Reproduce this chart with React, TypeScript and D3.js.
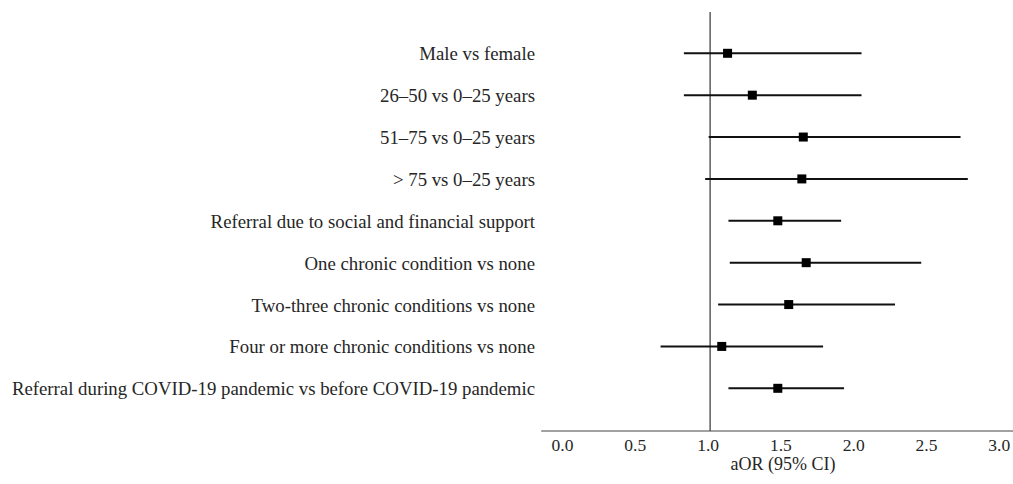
import React from "react";
import * as d3 from "d3";

const labels = [
  "Male vs female",
  "26–50 vs 0–25 years",
  "51–75 vs 0–25 years",
  "> 75 vs 0–25 years",
  "Referral due to social and financial support",
  "One chronic condition vs none",
  "Two-three chronic conditions vs none",
  "Four or more chronic conditions vs none",
  "Referral during COVID-19 pandemic vs before COVID-19 pandemic",
];
const estimates = [1.12, 1.29, 1.64, 1.63, 1.465, 1.66, 1.54, 1.08, 1.465];
const lower = [0.82, 0.82, 0.99, 0.966, 1.126, 1.135, 1.055, 0.66, 1.126];
const upper = [2.04, 2.04, 2.72, 2.77, 1.9, 2.45, 2.27, 1.776, 1.92];
const ticks = [0, 0.5, 1, 1.5, 2, 2.5, 3];

const W = 1013;
const H = 484;
const FONT = "'Liberation Serif', 'Times New Roman', serif";

export default function App() {
  const x = d3.scaleLinear().domain([0, 3]).range([564.5, 1001.3]);
  const y = d3
    .scalePoint<string>()
    .domain(labels)
    .range([53.3, 388.3]);
  const axisY = 431;
  const sq = 9;

  return (
    <svg
      width={W}
      height={H}
      style={{ position: "absolute", left: 0, top: 0, background: "#fff" }}
      fontFamily={FONT}
    >
      <line x1={x(1)} x2={x(1)} y1={12} y2={axisY} stroke="#333" strokeWidth={1.2} />
      <line x1={x(-0.16)} x2={W} y1={axisY} y2={axisY} stroke="#444" strokeWidth={1.2} />
      {ticks.map((t) => (
        <text
          key={t}
          x={x(t) - 2}
          y={451}
          textAnchor="middle"
          fontSize={17.5}
          fill="#262626"
        >
          {d3.format(".1f")(t)}
        </text>
      ))}
      <text x={x(1.5)} y={470} textAnchor="middle" fontSize={18} fill="#262626">
        aOR (95% CI)
      </text>
      {labels.map((l, i) => {
        const cy = y(l) as number;
        return (
          <g key={l}>
            <text x={535} y={cy + 7} textAnchor="end" fontSize={18.8} fill="#262626">
              {l}
            </text>
            <line
              x1={x(lower[i])}
              x2={x(upper[i])}
              y1={cy}
              y2={cy}
              stroke="#111"
              strokeWidth={2}
            />
            <rect
              x={x(estimates[i]) - sq / 2}
              y={cy - sq / 2}
              width={sq}
              height={sq}
              fill="#000"
            />
          </g>
        );
      })}
    </svg>
  );
}
